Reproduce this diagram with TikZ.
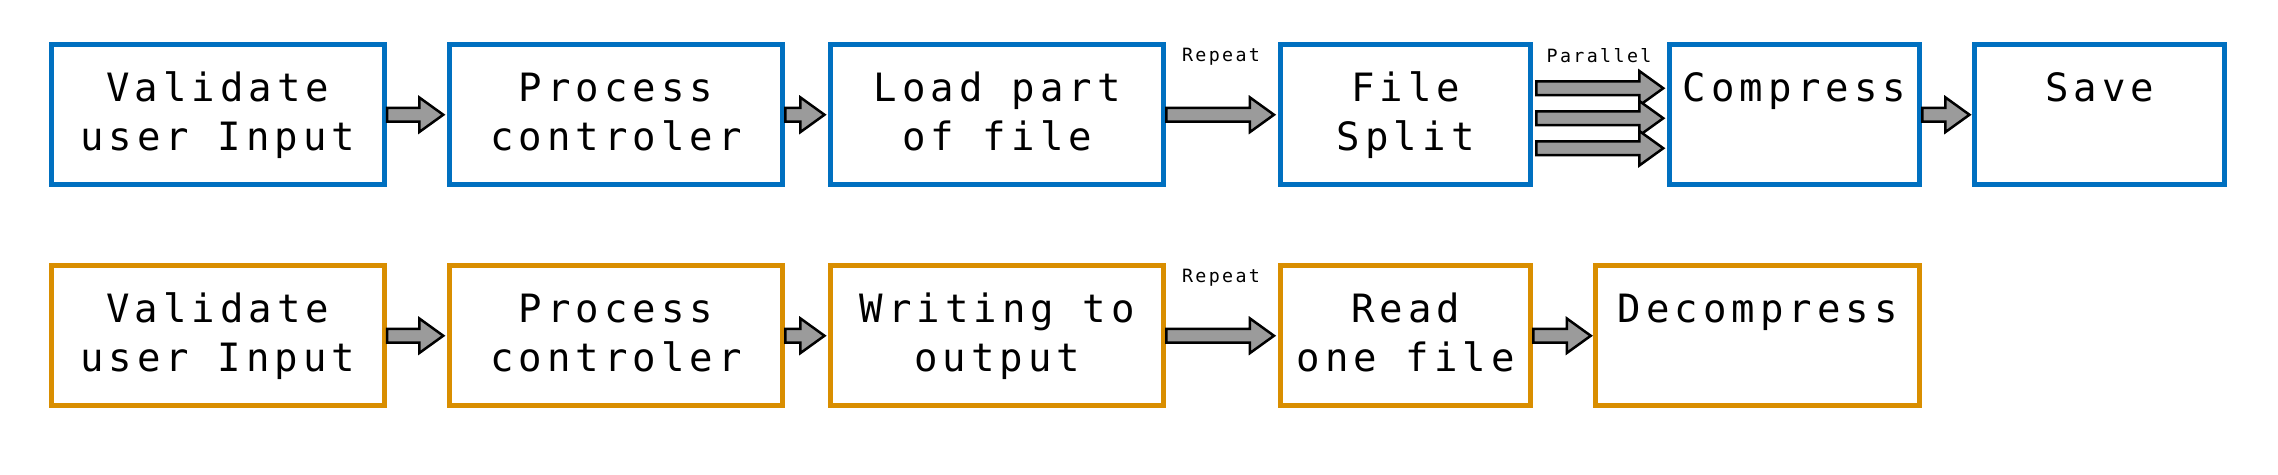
\documentclass[tikz,border=0pt]{standalone}
\usepackage{fontspec}
\newfontfamily\boxfont[LetterSpace=13]{DejaVu Sans Mono}
\usetikzlibrary{calc}
\definecolor{rowblue}{RGB}{0,112,192}
\definecolor{roworange}{RGB}{217,142,0}
\definecolor{arrowgray}{RGB}{155,155,155}
\newcommand\lstrut{\rule[-4.85pt]{0pt}{20.85pt}}
\newcommand\twolines[2]{\lstrut#1\\\lstrut#2}
\newcommand\fatarrow[2]{%
  \draw[blockarrow] let \p1=#1, \p2=#2 in
   (\x1,\y1+3.4pt) -- (\x2-12pt,\y1+3.4pt) -- (\x2-12pt,\y1+8.65pt) -- (\x2,\y1)
   -- (\x2-12pt,\y1-8.65pt) -- (\x2-12pt,\y1-3.4pt) -- (\x1,\y1-3.4pt) -- cycle;}
\tikzset{
  stage/.style={draw, line width=2.5pt, fill=white, inner sep=0pt,
    minimum height=69.75pt, align=center,
    font=\boxfont\fontsize{19.5pt}{24.15pt}\selectfont},
  wide/.style={minimum width=166.75pt},
  narrow/.style={minimum width=125.25pt},
  mid/.style={minimum width=162pt},
  rowA/.style={stage, draw=rowblue},
  rowB/.style={stage, draw=roworange},
  lbl/.style={font=\boxfont\fontsize{9.15pt}{11pt}\selectfont, inner sep=0pt, anchor=base},
  blockarrow/.style={draw=black, line width=1.25pt, fill=arrowgray, line join=miter},
}
\begin{document}
\begin{tikzpicture}[x=0.5pt,y=-0.5pt]
\fill[white] (0,0) rectangle (2278,475);
\useasboundingbox (0,0) rectangle (2278,475);
% row 1
\node[rowA,wide]   (b1) at (217.75,114.75) {\twolines{Validate}{user Input}};
\node[rowA,wide]   (b2) at (616,114.75)    {\twolines{Process}{controler}};
\node[rowA,wide]   (b3) at (997.2,114.75)  {\twolines{Load part}{of file}};
\node[rowA,narrow] (b4) at (1405.7,114.75) {\twolines{File}{Split}};
\node[rowA,narrow] (b5) at (1794.5,114.75) {\twolines{Compress}{}};
\node[rowA,narrow] (b6) at (2099.7,114.75) {\twolines{Save}{}};
% row 2
\node[rowB,wide]   (c1) at (217.75,335.75) {\twolines{Validate}{user Input}};
\node[rowB,wide]   (c2) at (616,335.75)    {\twolines{Process}{controler}};
\node[rowB,wide]   (c3) at (997.2,335.75)  {\twolines{Writing to}{output}};
\node[rowB,narrow] (c4) at (1405.7,335.75) {\twolines{Read}{one file}};
\node[rowB,mid]    (c5) at (1757.75,335.75){\twolines{Decompress}{}};
% arrows row 1
\fatarrow{(b1.east)}{([xshift=-1.75pt]b2.west)}
\fatarrow{(b2.east)}{([xshift=-1.75pt]b3.west)}
\fatarrow{(b3.east)}{([xshift=-2pt]b4.west)}
\fatarrow{([xshift=1.5pt,yshift=13.25pt]b4.east)}{([xshift=-1.75pt,yshift=13.25pt]b5.west)}
\fatarrow{([xshift=1.5pt,yshift=-1.75pt]b4.east)}{([xshift=-1.75pt,yshift=-1.75pt]b5.west)}
\fatarrow{([xshift=1.5pt,yshift=-16.75pt]b4.east)}{([xshift=-1.75pt,yshift=-16.75pt]b5.west)}
\fatarrow{(b5.east)}{([xshift=-1.25pt]b6.west)}
% arrows row 2
\fatarrow{(c1.east)}{([xshift=-1.75pt]c2.west)}
\fatarrow{(c2.east)}{([xshift=-1.75pt]c3.west)}
\fatarrow{(c3.east)}{([xshift=-2pt]c4.west)}
\fatarrow{(c4.east)}{([xshift=-1.25pt]c5.west)}
% labels
\node[lbl] (rep1) at (1221,62) {Repeat};
\node[lbl] (par)  at (1599,62.5) {Parallel};
\node[lbl] (rep2) at (1221,282.5) {Repeat};
\end{tikzpicture}
\end{document}
